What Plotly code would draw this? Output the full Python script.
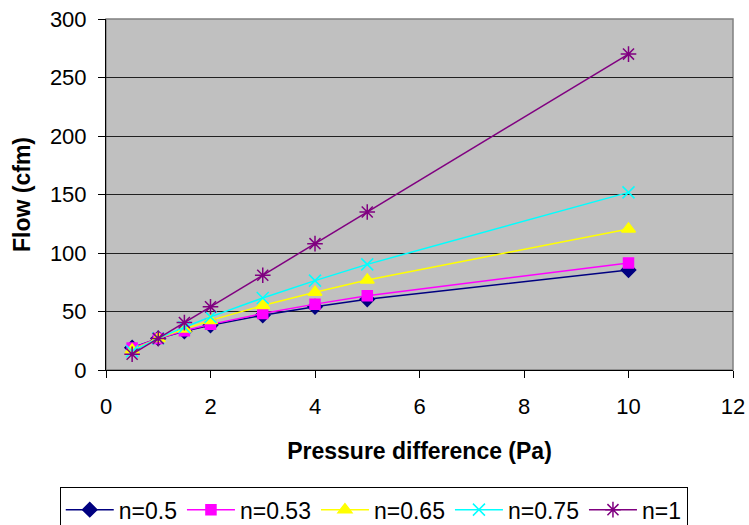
import plotly.graph_objects as go

pressure = [0.5, 1, 1.5, 2, 3, 4, 5, 10]
flow_n050 = [19.1, 27.0, 33.1, 38.2, 46.8, 54.0, 60.4, 85.4]
flow_n053 = [18.7, 27.0, 33.5, 39.0, 48.3, 56.3, 63.4, 91.5]
flow_n065 = [17.2, 27.0, 35.1, 42.4, 55.1, 66.5, 76.9, 120.6]
flow_n075 = [16.1, 27.0, 36.6, 45.4, 61.6, 76.4, 90.3, 151.8]
flow_n100 = [13.5, 27.0, 40.5, 54.0, 81.0, 108.0, 135.0, 270.0]

series_names = ["n=0.5", "n=0.53", "n=0.65", "n=0.75", "n=1"]
series_values = [flow_n050, flow_n053, flow_n065, flow_n075, flow_n100]
colors = ["#000080", "#FF00FF", "#FFFF00", "#00FFFF", "#800080"]
symbols = ["diamond", "square", "triangle-up", "x-thin-open", "asterisk-open"]
sizes = [11, 10, 12, 12, 13]

FONT = "Liberation Sans, Arial, sans-serif"

fig = go.Figure()
for name, vals, c, s, sz in zip(series_names, series_values, colors, symbols, sizes):
    fig.add_trace(go.Scatter(
        x=pressure, y=vals, name=name, mode="lines+markers",
        line=dict(color=c, width=1.5),
        marker=dict(symbol=s, size=sz, color=c, line=dict(color=c, width=1.5)),
    ))

fig.update_layout(
    width=749, height=525,
    margin=dict(l=106, r=16, t=19, b=155, autoexpand=False),
    paper_bgcolor="white",
    plot_bgcolor="#C0C0C0",
    font=dict(family=FONT, size=22, color="black"),
    showlegend=True,
    legend=dict(
        orientation="h", xref="container", yref="container",
        x=0.499, xanchor="center", y=0.072, yanchor="top",
        bordercolor="black", borderwidth=1, bgcolor="white",
        font=dict(family=FONT, size=23), itemwidth=48,
        tracegroupgap=0,
    ),
    shapes=[dict(type="rect", xref="paper", yref="paper", x0=0, x1=1, y0=0, y1=1,
                 line=dict(color="#808080", width=1.5), layer="below")],
)
fig.update_xaxes(
    range=[0, 12], tickvals=[0, 2, 4, 6, 8, 10, 12],
    showgrid=False, zeroline=False, automargin=False,
    showline=True, linecolor="black", linewidth=1,
    ticks="outside", ticklen=7, tickcolor="black",
    tickfont=dict(size=22), ticklabelstandoff=10,
    title=dict(text="<b>Pressure difference (Pa)</b>", font=dict(size=23), standoff=24),
)
fig.update_yaxes(
    range=[0, 300], tickvals=[0, 50, 100, 150, 200, 250, 300],
    showgrid=True, gridcolor="#202020", gridwidth=1, zeroline=False, automargin=False,
    showline=True, linecolor="black", linewidth=1,
    ticks="outside", ticklen=7, tickcolor="black",
    tickfont=dict(size=22), ticklabelstandoff=7,
    title=dict(text="<b>Flow (cfm)</b>", font=dict(size=23), standoff=12),
)

fig.write_html("out.html")
